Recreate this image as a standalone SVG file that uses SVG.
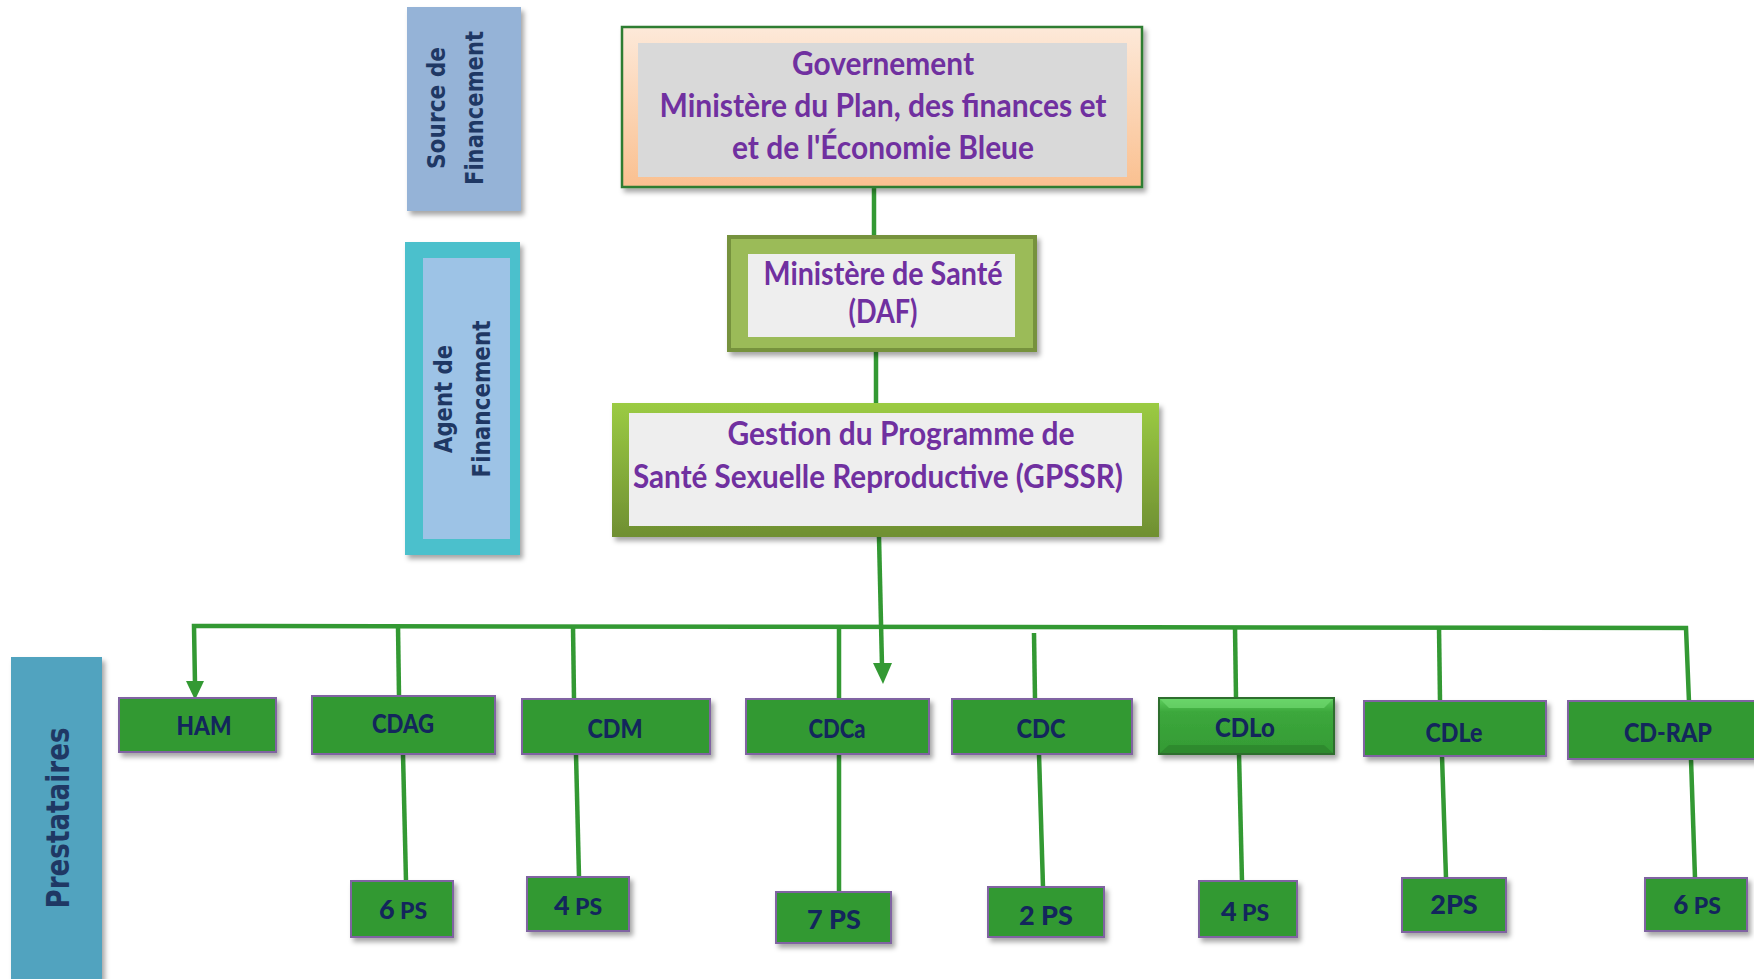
<svg xmlns="http://www.w3.org/2000/svg" width="1754" height="979" viewBox="0 0 1754 979">
<defs>
<filter id="sh" x="-10%" y="-10%" width="130%" height="140%"><feDropShadow dx="3" dy="4" stdDeviation="2.5" flood-color="#000" flood-opacity="0.35"/></filter>
<linearGradient id="gGov" x1="0" y1="0" x2="0" y2="1"><stop offset="0" stop-color="#FDE9D9"/><stop offset="1" stop-color="#FAC090"/></linearGradient>
<linearGradient id="gGp" x1="0" y1="0" x2="0" y2="1"><stop offset="0" stop-color="#9BCB43"/><stop offset="1" stop-color="#6F8F32"/></linearGradient>
<linearGradient id="gLo" x1="0" y1="0" x2="0" y2="1"><stop offset="0" stop-color="#5FCF5F"/><stop offset="0.25" stop-color="#3CA83C"/><stop offset="1" stop-color="#349A34"/></linearGradient>
</defs>
<style>
.ln{stroke:#339933;stroke-width:4.5;fill:none}
.ah{fill:#339933}
.pt{font-family:Lato,"Open Sans",sans-serif;font-weight:bold;fill:#7030A0;font-size:32px;text-anchor:middle}
.side{font-family:"DejaVu Sans",Verdana,sans-serif;font-weight:bold;fill:#1F3864;text-anchor:middle}
.box{fill:#339933;stroke:#8064A2;stroke-width:2}
.bt{font-family:Lato,"Open Sans",sans-serif;font-weight:900;fill:#13265C;font-size:27px;text-anchor:middle}
</style>
<rect width="1754" height="979" fill="#fff"/>

<g id="source">
<rect x="407" y="7" width="114" height="204" fill="#95B3D7" filter="url(#sh)"/>
<text class="side" font-size="24" transform="translate(445,108) rotate(-90)" textLength="122" lengthAdjust="spacingAndGlyphs">Source de</text>
<text class="side" font-size="24" transform="translate(483,108) rotate(-90)" textLength="154" lengthAdjust="spacingAndGlyphs">Financement</text>
</g>

<g id="agent">
<rect x="405" y="242" width="115" height="313" fill="#4BC0CC" filter="url(#sh)"/>
<rect x="423" y="258" width="87" height="281" fill="#9DC3E6"/>
<text class="side" font-size="24" transform="translate(452,399) rotate(-90)" textLength="108" lengthAdjust="spacingAndGlyphs">Agent de</text>
<text class="side" font-size="24" transform="translate(490,399) rotate(-90)" textLength="157" lengthAdjust="spacingAndGlyphs">Financement</text>
</g>

<g id="prestataires">
<rect x="11" y="657" width="91" height="330" fill="#51A3BF" filter="url(#sh)"/>
<text class="side" font-size="32" transform="translate(69,818) rotate(-90)" textLength="181" lengthAdjust="spacingAndGlyphs">Prestataires</text>
</g>

<g id="connectors">
<line class="ln" x1="874" y1="187" x2="874" y2="236"/>
<line class="ln" x1="876" y1="351" x2="876" y2="403"/>
<line class="ln" x1="879" y1="537" x2="882" y2="666"/>
<polygon class="ah" points="873,663 892,663 883,684"/>
<polyline class="ln" points="195,684 194,626 1686,628 1689,702"/>
<polygon class="ah" points="186,681 204,681 195,700"/>
<line class="ln" x1="398" y1="626" x2="399" y2="696"/>
<line class="ln" x1="573" y1="626" x2="574" y2="699"/>
<line class="ln" x1="839" y1="627" x2="839" y2="699"/>
<line class="ln" x1="1034" y1="633" x2="1035" y2="699"/>
<line class="ln" x1="1235" y1="627" x2="1236" y2="698"/>
<line class="ln" x1="1439" y1="627" x2="1440" y2="701"/>
<line class="ln" x1="403" y1="754" x2="406" y2="881"/>
<line class="ln" x1="576" y1="754" x2="579" y2="877"/>
<line class="ln" x1="839" y1="754" x2="839" y2="892"/>
<line class="ln" x1="1039" y1="754" x2="1043" y2="887"/>
<line class="ln" x1="1239" y1="754" x2="1242" y2="881"/>
<line class="ln" x1="1442" y1="756" x2="1446" y2="878"/>
<line class="ln" x1="1691" y1="759" x2="1695" y2="878"/>
</g>

<g id="gouvernement">
<rect x="622" y="27" width="520" height="160" fill="url(#gGov)" stroke="#2E7D32" stroke-width="2.5" filter="url(#sh)"/>
<rect x="638" y="43" width="489" height="134" fill="#D9D9D9"/>
<text class="pt" x="883" y="75" textLength="182" lengthAdjust="spacingAndGlyphs">Governement</text>
<text class="pt" x="883" y="117" textLength="447" lengthAdjust="spacingAndGlyphs">Ministère du Plan, des finances et</text>
<text class="pt" x="883" y="159" textLength="302" lengthAdjust="spacingAndGlyphs">et de l'Économie Bleue</text>
</g>

<g id="sante">
<rect x="729" y="237" width="306" height="113" fill="#9BBB59" stroke="#76923C" stroke-width="4" filter="url(#sh)"/>
<rect x="748" y="254" width="267" height="83" fill="#EEEEEE"/>
<text class="pt" x="883" y="285" textLength="239" lengthAdjust="spacingAndGlyphs">Ministère de Santé</text>
<text class="pt" x="883" y="323" textLength="69" lengthAdjust="spacingAndGlyphs">(DAF)</text>
</g>

<g id="gpssr">
<rect x="612" y="403" width="547" height="134" fill="url(#gGp)" filter="url(#sh)"/>
<rect x="629" y="413" width="513" height="113" fill="#EEEEEE"/>
<text class="pt" x="901" y="445" textLength="347" lengthAdjust="spacingAndGlyphs">Gestion du Programme de</text>
<text class="pt" x="878" y="488" textLength="490" lengthAdjust="spacingAndGlyphs">Santé Sexuelle Reproductive (GPSSR)</text>
</g>

<g id="ham"><rect class="box" x="119" y="698" width="157" height="54" filter="url(#sh)"/><text class="bt" x="204" y="735" textLength="55" lengthAdjust="spacingAndGlyphs">HAM</text></g>
<g id="cdag"><rect class="box" x="312" y="696" width="183" height="58" filter="url(#sh)"/><text class="bt" x="403" y="733" textLength="62" lengthAdjust="spacingAndGlyphs">CDAG</text></g>
<g id="cdm"><rect class="box" x="522" y="699" width="188" height="55" filter="url(#sh)"/><text class="bt" x="615" y="738" textLength="55" lengthAdjust="spacingAndGlyphs">CDM</text></g>
<g id="cdca"><rect class="box" x="746" y="699" width="183" height="55" filter="url(#sh)"/><text class="bt" x="837" y="738" textLength="57" lengthAdjust="spacingAndGlyphs">CDCa</text></g>
<g id="cdc"><rect class="box" x="952" y="699" width="180" height="55" filter="url(#sh)"/><text class="bt" x="1041" y="738" textLength="49" lengthAdjust="spacingAndGlyphs">CDC</text></g>
<g id="cdlo">
<rect x="1159" y="698" width="175" height="56" fill="url(#gLo)" stroke="#2D6E2D" stroke-width="2" filter="url(#sh)"/>
<polygon points="1160,699 1333,699 1324,708 1169,708" fill="#6FD86F" opacity="0.7"/>
<polygon points="1160,753 1333,753 1324,745 1169,745" fill="#2A7E2A" opacity="0.6"/>
<text class="bt" x="1245" y="737" textLength="60" lengthAdjust="spacingAndGlyphs">CDLo</text>
</g>
<g id="cdle"><rect class="box" x="1364" y="701" width="182" height="55" filter="url(#sh)"/><text class="bt" x="1454" y="742" textLength="57" lengthAdjust="spacingAndGlyphs">CDLe</text></g>
<g id="cdrap"><rect class="box" x="1568" y="701" width="200" height="58" filter="url(#sh)"/><text class="bt" x="1668" y="742" textLength="88" lengthAdjust="spacingAndGlyphs">CD-RAP</text></g>

<g id="ps-cdag"><rect class="box" x="351" y="881" width="102" height="56" filter="url(#sh)"/><text class="bt" x="403" y="919"><tspan font-size="27">6</tspan><tspan font-size="23"> PS</tspan></text></g>
<g id="ps-cdm"><rect class="box" x="527" y="877" width="102" height="54" filter="url(#sh)"/><text class="bt" x="578" y="915"><tspan font-size="27">4</tspan><tspan font-size="23"> PS</tspan></text></g>
<g id="ps-cdca"><rect class="box" x="776" y="892" width="115" height="51" filter="url(#sh)"/><text class="bt" x="834" y="929" font-size="27">7 PS</text></g>
<g id="ps-cdc"><rect class="box" x="988" y="887" width="116" height="50" filter="url(#sh)"/><text class="bt" x="1046" y="925" font-size="27">2 PS</text></g>
<g id="ps-cdlo"><rect class="box" x="1199" y="881" width="98" height="56" filter="url(#sh)"/><text class="bt" x="1245" y="921"><tspan font-size="27">4</tspan><tspan font-size="23"> PS</tspan></text></g>
<g id="ps-cdle"><rect class="box" x="1402" y="878" width="104" height="54" filter="url(#sh)"/><text class="bt" x="1454" y="914" font-size="25">2PS</text></g>
<g id="ps-cdrap"><rect class="box" x="1645" y="878" width="102" height="53" filter="url(#sh)"/><text class="bt" x="1697" y="914"><tspan font-size="26">6</tspan><tspan font-size="23"> PS</tspan></text></g>
</svg>
